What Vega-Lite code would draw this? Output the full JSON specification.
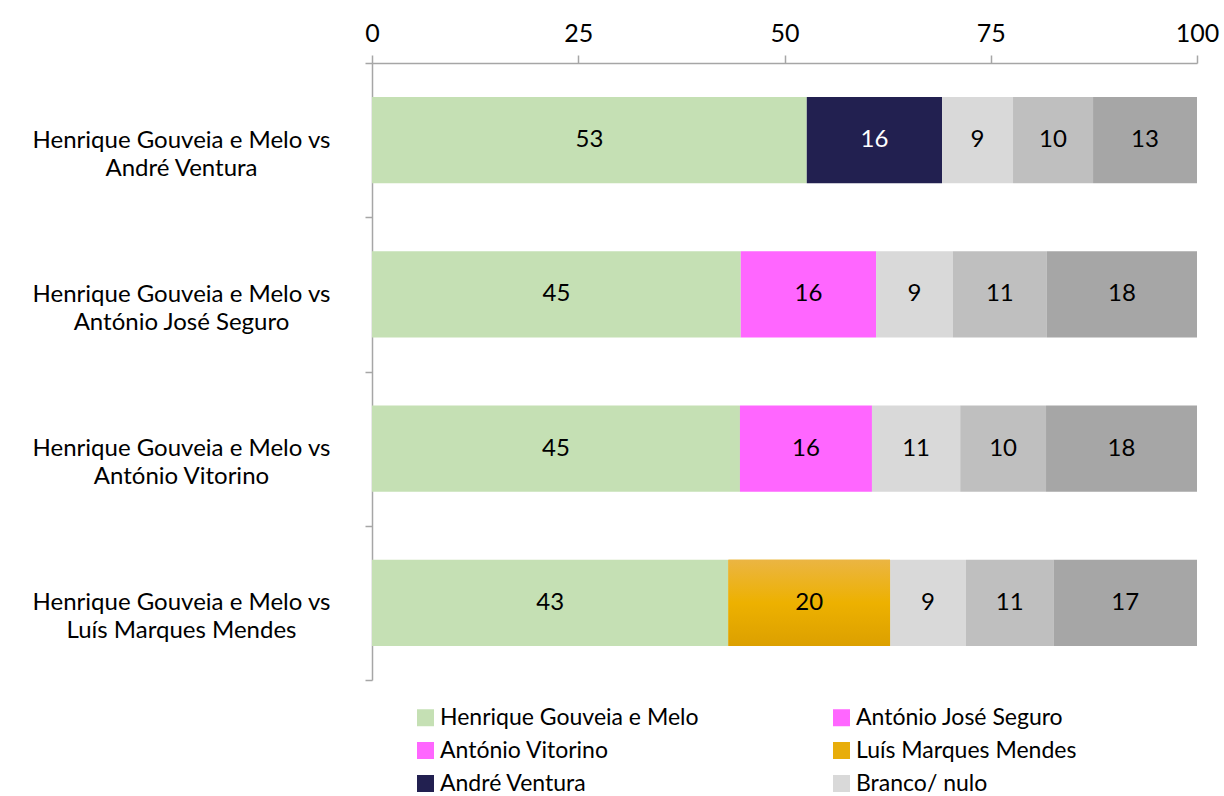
{
  "$schema": "https://vega.github.io/schema/vega-lite/v6.json",
  "width": 825,
  "height": 617,
  "autosize": {"type": "none"},
  "padding": {"left": 372, "top": 63, "right": 27, "bottom": 116},
  "config": {"font": "Lato", "view": {"stroke": null}},
  "data": {
    "values": [
      {"category": "Henrique Gouveia e Melo vs André Ventura", "series": "Henrique Gouveia e Melo", "slot": 1, "value": 52.7},
      {"category": "Henrique Gouveia e Melo vs André Ventura", "series": "André Ventura", "slot": 2, "value": 16.4},
      {"category": "Henrique Gouveia e Melo vs André Ventura", "series": "Branco/ nulo", "slot": 3, "value": 8.6},
      {"category": "Henrique Gouveia e Melo vs André Ventura", "series": "Não sabe/ Não responde", "slot": 4, "value": 9.7},
      {"category": "Henrique Gouveia e Melo vs André Ventura", "series": "Abstenção", "slot": 5, "value": 12.6},
      {"category": "Henrique Gouveia e Melo vs António José Seguro", "series": "Henrique Gouveia e Melo", "slot": 1, "value": 44.7},
      {"category": "Henrique Gouveia e Melo vs António José Seguro", "series": "António José Seguro", "slot": 2, "value": 16.4},
      {"category": "Henrique Gouveia e Melo vs António José Seguro", "series": "Branco/ nulo", "slot": 3, "value": 9.3},
      {"category": "Henrique Gouveia e Melo vs António José Seguro", "series": "Não sabe/ Não responde", "slot": 4, "value": 11.4},
      {"category": "Henrique Gouveia e Melo vs António José Seguro", "series": "Abstenção", "slot": 5, "value": 18.2},
      {"category": "Henrique Gouveia e Melo vs António Vitorino", "series": "Henrique Gouveia e Melo", "slot": 1, "value": 44.6},
      {"category": "Henrique Gouveia e Melo vs António Vitorino", "series": "António Vitorino", "slot": 2, "value": 16.0},
      {"category": "Henrique Gouveia e Melo vs António Vitorino", "series": "Branco/ nulo", "slot": 3, "value": 10.7},
      {"category": "Henrique Gouveia e Melo vs António Vitorino", "series": "Não sabe/ Não responde", "slot": 4, "value": 10.4},
      {"category": "Henrique Gouveia e Melo vs António Vitorino", "series": "Abstenção", "slot": 5, "value": 18.3},
      {"category": "Henrique Gouveia e Melo vs Luís Marques Mendes", "series": "Henrique Gouveia e Melo", "slot": 1, "value": 43.2},
      {"category": "Henrique Gouveia e Melo vs Luís Marques Mendes", "series": " Luís Marques Mendes", "slot": 2, "value": 19.6},
      {"category": "Henrique Gouveia e Melo vs Luís Marques Mendes", "series": "Branco/ nulo", "slot": 3, "value": 9.2},
      {"category": "Henrique Gouveia e Melo vs Luís Marques Mendes", "series": "Não sabe/ Não responde", "slot": 4, "value": 10.6},
      {"category": "Henrique Gouveia e Melo vs Luís Marques Mendes", "series": "Abstenção", "slot": 5, "value": 17.4}
    ]
  },
  "transform": [
    {"stack": "value", "groupby": ["category"], "sort": [{"field": "slot", "order": "ascending"}], "as": ["v0", "v1"]},
    {"calculate": "(datum.v0 + datum.v1) / 2", "as": "mid"}
  ],
  "encoding": {
    "y": {
      "field": "category",
      "type": "nominal",
      "sort": null,
      "scale": {"paddingInner": 0, "paddingOuter": 0},
      "axis": {
        "orient": "left",
        "title": null,
        "tickBand": "extent",
        "domainColor": "#a6a6a6",
        "domainWidth": 1.5,
        "tickColor": "#a6a6a6",
        "tickWidth": 1.5,
        "tickSize": 7,
        "labelAlign": "center",
        "labelBaseline": "middle",
        "labelPadding": 184,
        "labelFontSize": 24,
        "labelColor": "black",
        "labelLineHeight": 28,
        "labelLimit": 0,
        "labelExpr": "datum.label ? [split(datum.label, ' vs ')[0] + ' vs', split(datum.label, ' vs ')[1]] : ''"
      }
    }
  },
  "layer": [
    {
      "mark": {"type": "bar", "height": {"band": 0.56}},
      "encoding": {
        "x": {
          "field": "v0",
          "type": "quantitative",
          "scale": {"domain": [0, 100], "nice": false},
          "axis": {
            "orient": "top",
            "title": null,
            "values": [0, 25, 50, 75, 100],
            "grid": false,
            "domainColor": "#a6a6a6",
            "domainWidth": 1.5,
            "tickColor": "#a6a6a6",
            "tickWidth": 1.5,
            "tickSize": 8,
            "labelFontSize": 25,
            "labelColor": "black",
            "labelPadding": 9,
            "labelFlush": false
          }
        },
        "x2": {"field": "v1"},
        "color": {
          "field": "series",
          "type": "nominal",
          "scale": {
            "domain": ["Henrique Gouveia e Melo", "António José Seguro", "António Vitorino", " Luís Marques Mendes", "André Ventura", "Branco/ nulo", "Não sabe/ Não responde", "Abstenção"],
            "range": ["#c5e0b4", "#ff66ff", "#ff66ff", "#e8ad0a", "#222050", "#d9d9d9", "#bfbfbf", "#a6a6a6"]
          },
          "legend": {
            "orient": "none",
            "direction": "horizontal",
            "legendX": 42,
            "legendY": 643,
            "columns": 2,
            "values": ["Henrique Gouveia e Melo", "António José Seguro", "António Vitorino", " Luís Marques Mendes", "André Ventura", "Branco/ nulo"],
            "title": null,
            "symbolType": "square",
            "symbolSize": 289,
            "symbolStrokeWidth": 0,
            "labelFontSize": 23,
            "labelColor": "black",
            "labelOffset": 3,
            "columnPadding": 131,
            "rowPadding": 9,
            "labelLimit": 0,
            "padding": 0
          }
        }
      }
    },
    {
      "transform": [{"filter": "datum.series === ' Luís Marques Mendes'"}],
      "mark": {
        "type": "bar",
        "height": {"band": 0.56},
        "color": {"gradient": "linear", "x1": 0, "y1": 0, "x2": 0, "y2": 1, "stops": [{"offset": 0, "color": "#ebb543"}, {"offset": 0.5, "color": "#edb100"}, {"offset": 1, "color": "#dca000"}]}
      },
      "encoding": {
        "x": {"field": "v0", "type": "quantitative"},
        "x2": {"field": "v1"}
      }
    },
    {
      "mark": {"type": "text", "fontSize": 24, "baseline": "middle", "align": "center"},
      "encoding": {
        "x": {"field": "mid", "type": "quantitative"},
        "text": {"field": "value", "type": "quantitative", "format": ".0f"},
        "color": {
          "condition": {"test": "datum.series === 'André Ventura'", "value": "white"},
          "value": "black"
        }
      }
    }
  ]
}
